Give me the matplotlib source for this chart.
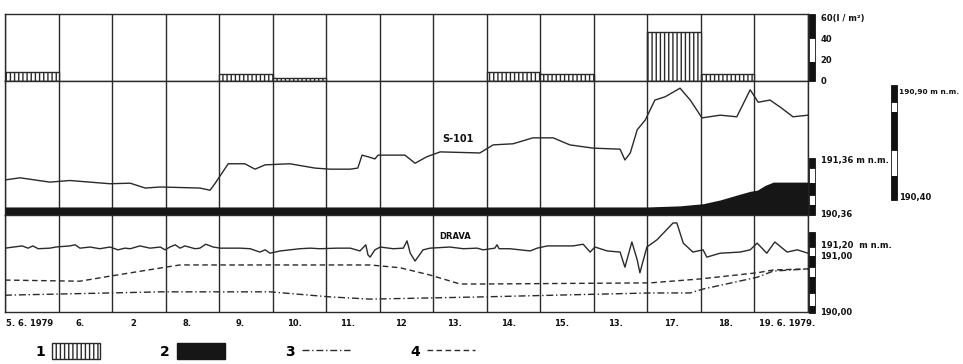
import matplotlib
matplotlib.use('Agg')
import matplotlib.pyplot as plt
from matplotlib.patches import Rectangle, Patch
from matplotlib.lines import Line2D
import numpy as np

plt.rcParams['font.family'] = ['DejaVu Sans']
plt.rcParams['font.weight'] = 'bold'

# one column per day, 5.6.1979 - 19.6.1979
day_labels = ['5. 6. 1979', '6.', '2', '8.', '9.', '10.', '11.', '12', '13.',
              '14.', '15.', '13.', '17.', '18.', '19. 6. 1979.']
label_pos = [0.45, 1.4, 2.4, 3.4, 4.4, 5.4, 6.4, 7.4, 8.4, 9.4, 10.4, 11.4,
             12.45, 13.45, 14.6]

# 1 - precipitation (l/m2) per day
rain = [8, 0, 0, 0, 6.6, 3, 0, 0, 0, 8.4, 6.6, 0, 46, 6.6, 0]

# S-101 groundwater level (m n.m.)
s101_day = [0.00, 0.28, 0.84, 1.21, 1.96, 2.34, 2.62, 2.90, 3.64, 3.83, 3.92,
            4.17, 4.48, 4.67, 4.86, 5.32, 5.79, 6.07, 6.45, 6.59, 6.67, 6.78,
            6.91, 6.97, 7.47, 7.66, 7.88, 8.13, 8.87, 9.12, 9.49, 9.86, 10.24,
            10.55, 10.98, 11.49, 11.58, 11.68, 11.81, 11.96, 12.14, 12.33,
            12.61, 12.80, 13.02, 13.36, 13.67, 13.92, 14.07, 14.29, 14.48,
            14.72, 15.00]
s101_lev = [190.99, 191.03, 190.95, 190.98, 190.92, 190.93, 190.84, 190.86,
            190.84, 190.80, 190.92, 191.29, 191.29, 191.19, 191.27, 191.29,
            191.21, 191.19, 191.19, 191.21, 191.45, 191.42, 191.38, 191.45,
            191.45, 191.30, 191.42, 191.51, 191.49, 191.64, 191.66, 191.77,
            191.77, 191.64, 191.58, 191.56, 191.36, 191.49, 191.92, 192.10,
            192.47, 192.53, 192.69, 192.47, 192.14, 192.19, 192.16, 192.66,
            192.43, 192.47, 192.34, 192.16, 192.19]

# 2 - filled level band (m n.m.)
band_day = [0.0, 12.0, 12.6, 13.04, 13.36, 13.67, 13.92, 14.05, 14.2, 14.35, 15.0]
band_top = [190.49, 190.49, 190.51, 190.55, 190.62, 190.71, 190.78, 190.80,
            190.89, 190.95, 190.95]

# Drava river level (m n.m.)
drava_day = [0.00, 0.32, 0.43, 0.52, 0.62, 0.84, 0.95, 1.21, 1.31, 1.40, 1.59,
             1.77, 1.96, 2.11, 2.24, 2.34, 2.52, 2.71, 2.90, 2.99, 3.08, 3.18,
             3.27, 3.36, 3.55, 3.64, 3.75, 3.89, 4.02, 4.39, 4.58, 4.76, 4.86,
             4.95, 5.14, 5.51, 5.70, 5.88, 6.20, 6.45, 6.63, 6.74, 6.78, 6.82,
             6.91, 7.01, 7.25, 7.44, 7.51, 7.57, 7.66, 7.81, 7.94, 8.31, 8.56,
             8.82, 8.93, 9.15, 9.19, 9.23, 9.43, 9.81, 9.94, 10.13, 10.37,
             10.61, 10.80, 10.93, 11.02, 11.25, 11.49, 11.58, 11.71, 11.81,
             11.86, 11.99, 12.18, 12.48, 12.55, 12.67, 12.85, 13.04, 13.11,
             13.36, 13.73, 13.92, 14.05, 14.23, 14.38, 14.61, 14.80, 15.00]
drava_lev = [191.14, 191.18, 191.14, 191.18, 191.13, 191.14, 191.16, 191.18,
             191.20, 191.14, 191.16, 191.13, 191.16, 191.11, 191.14, 191.13,
             191.18, 191.14, 191.16, 191.11, 191.16, 191.20, 191.14, 191.18,
             191.13, 191.14, 191.21, 191.16, 191.14, 191.14, 191.13, 191.07,
             191.11, 191.05, 191.09, 191.13, 191.14, 191.13, 191.14, 191.14,
             191.09, 191.20, 191.02, 190.98, 191.11, 191.16, 191.13, 191.14,
             191.27, 191.05, 190.91, 191.11, 191.14, 191.16, 191.13, 191.14,
             191.11, 191.14, 191.20, 191.13, 191.13, 191.09, 191.14, 191.18,
             191.18, 191.18, 191.21, 191.07, 191.16, 191.09, 191.07, 190.80,
             191.25, 190.93, 190.70, 191.16, 191.29, 191.59, 191.59, 191.23,
             191.07, 191.11, 190.98, 191.05, 191.07, 191.11, 191.23, 191.05,
             191.25, 191.07, 191.11, 191.05]

# 3 - dash-dot line, 4 - dashed line (m n.m.)
l3_day = [0.0, 2.93, 4.95, 6.07, 6.82, 8.93, 12.05, 12.80, 13.04, 14.05, 14.35, 15.0]
l3_lev = [190.30, 190.36, 190.36, 190.27, 190.23, 190.27, 190.34, 190.34,
          190.41, 190.62, 190.73, 190.77]
l4_day = [0.0, 1.40, 1.96, 2.93, 3.27, 4.95, 6.82, 7.38, 7.94, 8.50, 8.93,
          12.05, 12.98, 14.05, 14.35, 15.0]
l4_lev = [190.57, 190.55, 190.64, 190.79, 190.84, 190.84, 190.84, 190.79,
          190.66, 190.50, 190.50, 190.52, 190.59, 190.70, 190.75, 190.77]

ink = '#2a2a2a'
W, H = 963, 364

fig = plt.figure(figsize=(W / 100, H / 100), dpi=100)
ax_r = fig.add_axes([5 / W, 1 - 81 / H, 803 / W, 67 / H])
ax_g = fig.add_axes([5 / W, 1 - 215 / H, 803 / W, 134 / H])
ax_d = fig.add_axes([5 / W, 1 - 312 / H, 803 / W, 97 / H])

for ax in (ax_r, ax_g, ax_d):
    ax.set_xlim(0, 15)
    for d in range(16):
        ax.axvline(d, color=ink, lw=1.0, zorder=1)
    for s in ax.spines.values():
        s.set_color(ink)
        s.set_linewidth(1.0)
    ax.yaxis.tick_right()
    ax.tick_params(axis='y', length=0, pad=9, labelsize=6, colors='#111')
    ax.tick_params(axis='x', length=0, labelbottom=False)

# precipitation
x = np.arange(len(rain))
r = np.array(rain)
m = r > 0
ax_r.bar(x[m] + 0.5, r[m], width=1.0, facecolor='white', edgecolor=ink,
         hatch='||||', linewidth=1.0, zorder=2)
ax_r.set_ylim(0, 63)
ax_r.set_yticks([0, 20, 40, 60], ['0', '20', '40', '60(l / m²)'])
ax_r.set_xticks([])

# groundwater
ax_g.set_ylim(190.341, 192.823)
ax_g.fill_between(band_day, 190.341, band_top, color='#161616', lw=0, zorder=3)
ax_g.plot(s101_day, s101_lev, color=ink, lw=1.0, zorder=3)
ax_g.text(8.46, 191.75, 'S-101', fontsize=7, ha='center', va='center', color='#111')
ax_g.set_yticks([190.36, 191.36], ['190,36', '191,36 m n.m.'])
ax_g.set_xticks([])

# river
ax_d.set_ylim(190.0, 191.732)
ax_d.plot(drava_day, drava_lev, color=ink, lw=1.0, zorder=3)
ax_d.plot(l3_day, l3_lev, color=ink, lw=1.0, dashes=(5, 2, 1, 2), zorder=3)
ax_d.plot(l4_day, l4_lev, color=ink, lw=1.0, dashes=(4, 2.5), zorder=3)
ax_d.text(8.4, 191.34, 'DRAVA', fontsize=6, ha='center', va='center', color='#111')
ax_d.set_yticks([190.0, 191.0, 191.2], ['190,00', '191,00', '191,20  m n.m.'])
ax_d.set_xticks(label_pos, day_labels)
ax_d.tick_params(axis='x', labelbottom=True, labelsize=6, pad=5, colors='#111')


def scale_bar(x0, x1, segs):
    for top, bot, col in segs:
        fig.add_artist(Rectangle((x0 / W, 1 - bot / H), (x1 - x0) / W, (bot - top) / H,
                                 transform=fig.transFigure, facecolor=col,
                                 edgecolor='#111', lw=0.6))


scale_bar(809, 815, [(14, 38, '#111'), (38, 62, 'white'), (62, 81, '#111')])
scale_bar(809, 815, [(158, 168, '#111'), (168, 183, 'white'), (183, 195, '#111'),
                     (195, 205, 'white'), (205, 215, '#111')])
scale_bar(809, 815, [(232, 247, '#111'), (247, 256, 'white'), (256, 267, '#111'),
                     (267, 277, 'white'), (277, 293, '#111'), (293, 306, 'white'),
                     (306, 313, '#111')])
scale_bar(891, 897, [(85, 102, '#111'), (102, 112, 'white'), (112, 150, '#111'),
                     (150, 176, 'white'), (176, 200, '#111')])
fig.text(899 / W, 1 - 92 / H, '190,90 m n.m.', fontsize=5.3, va='center', color='#111')
fig.text(899 / W, 1 - 198 / H, '190,40', fontsize=6, va='center', color='#111')

handles = [Patch(facecolor='white', edgecolor=ink, hatch='||||', lw=1.0),
           Patch(facecolor='#161616', edgecolor='#161616'),
           Line2D([], [], color=ink, lw=1.0, dashes=(5, 2, 1, 2)),
           Line2D([], [], color=ink, lw=1.0, dashes=(4, 2.5))]
fig.legend(handles, ['1', '2', '3', '4'], markerfirst=False, ncol=4,
           loc='center left', bbox_to_anchor=(35 / W, 1 - 351 / H),
           frameon=False, fontsize=10, handlelength=3.45, handleheight=1.3,
           handletextpad=0.55, columnspacing=4.3, borderpad=0, borderaxespad=0)

fig.savefig('out.png', dpi=100)
